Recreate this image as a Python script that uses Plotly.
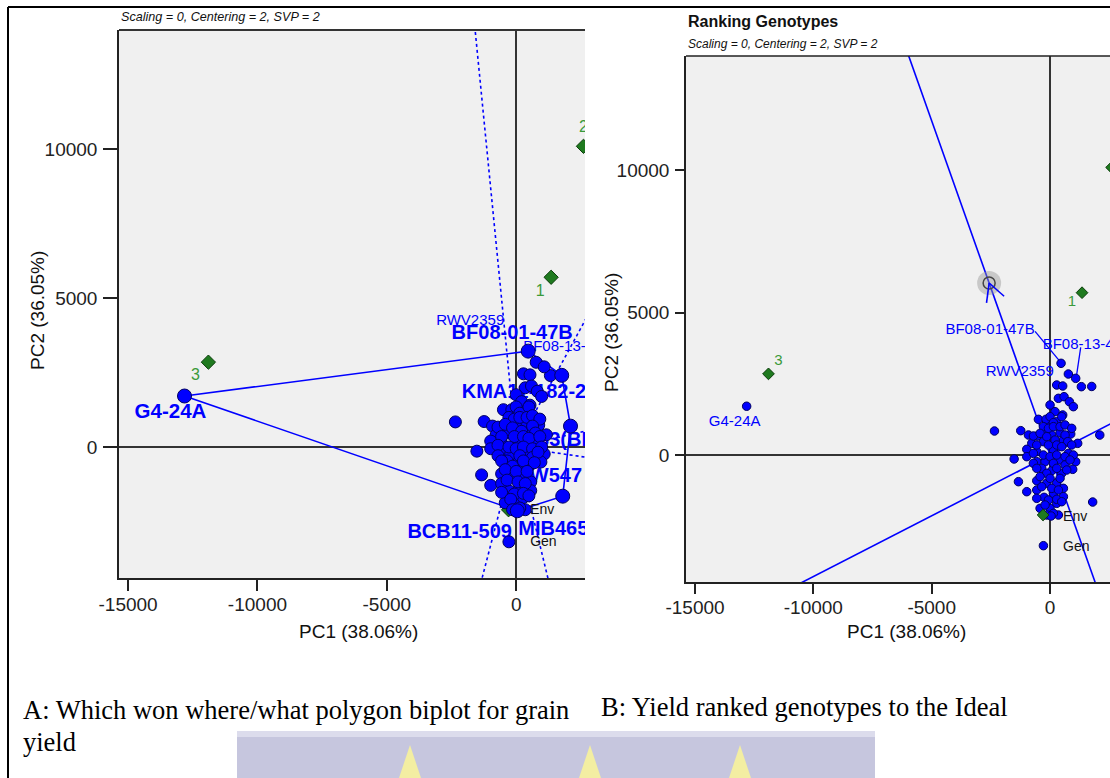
import math
import plotly.graph_objects as go

W, H = 1110, 778
FONT = "Liberation Sans"
SERIF = "Liberation Serif"

# ---------------- data ----------------
gen_pc1 = [773, 1322, 281, 534, 352, 591, 816, 984, 0, 211,
           534, -492, -141, 281, -2349, -1238, -914, -534, -239, 70,
           422, 872, 1167, -773, -281, 563, -984, -563, 141, 773,
           -1519, -984, -563, -211, 422, 1083, 956, -352, 70, 492,
           -1336, -563, -141, 281, 563, -984, -563, -253, 141, 563,
           -422, 0, 281, 352, 1083, -281,
           -169, 0, 141, 492, -281, -70, 141, 422, 633, 914,
           -703, -422, -141, 211, 633, 745, -563, -70, 281, 492,
           914, -703, -281, 0, 281, 633, 984, -703, 141, 633,
           844, -563, -141, 281, 703, -422, 0, 422, -352, 70,
           352, -563, -70, 281, 492, -211, 141, -141]
gen_pc2 = [2842, 2398, 2456, 2421, 1988, 2047, 1871, 1696, 1755, 1521,
           1404, 1252, 1111, 1170, 842, 854, 702, 667, 760, 702,
           784, 737, 409, 409, 468, 526, 199, 117, 175, 58,
           -140, -58, -234, -234, -175, -234, -503, -468, -550, -643,
           -936, -901, -994, -971, -1170, -1287, -1228, -1486, -1345, -1462,
           -1871, -1871, -1696, -2105, 2690, -3182,
           1252, 1345, 1135, 1345, 994, 936, 994, 994, 1053, 936,
           667, 760, 643, 526, 702, 468, 351, 351, 351, 292,
           351, 58, 0, -58, 0, -58, 0, -292, -292, -351,
           -175, -468, -643, -468, -526, -760, -819, -819, -1111, -1170,
           -1228, -1521, -1579, -1556, -1638, -1755, -2047, -2105]

# polygon vertex genotypes (which-won-where)
vertex_names = ["G4-24A", "BF08-01-47B", "KMA11-182-28", "CH-33(BF08)", "RW547", "MIB4653"]
vertex_pc1 = [-12818, 464, 1760, 2100, 1800, 42]
vertex_pc2 = [1711, 3217, 2405, 700, -1650, -2140]

# other labelled genotypes
named_gen = ["BF08-13-44", "RWV2359", "BCB11-509"]
named_pc1 = [1083, 281, -281]
named_pc2 = [2690, 2456, -3182]

# environments
env_names = ["1", "2", "3", "4"]
env_pc1 = [1351, 2600, -11895, -295]
env_pc2 = [5695, 10090, 2847, -2105]

# ideal genotype (ranking plot)
ideal_pc1, ideal_pc2 = -2574, 6035

x_ticks = [-15000, -10000, -5000, 0]
y_ticks = [0, 5000, 10000]
x_title = "PC1 (38.06%)"
y_title = "PC2 (36.05%)"
subtitle = "Scaling = 0, Centering = 2, SVP = 2"
title_b = "Ranking Genotypes"
caption_a1 = "A: Which won where/what polygon biplot for grain"
caption_a2 = "yield"
caption_b = "B: Yield ranked genotypes to the Ideal"

# ---------------- layout geometry ----------------
LEFT = dict(xr=[-15350, 2660], yr=[-4396, 13993], px=[119, 585], py=[30, 578])
RIGHT = dict(xr=[-15380, 2532], yr=[-4456, 14000], px=[686, 1110], py=[56, 582])


def upp(p):
    return ((p["xr"][1] - p["xr"][0]) / (p["px"][1] - p["px"][0]),
            (p["yr"][1] - p["yr"][0]) / (p["py"][1] - p["py"][0]))


def dom(p):
    return ([p["px"][0] / W, min(1.0, p["px"][1] / W)],
            [1 - p["py"][1] / H, 1 - p["py"][0] / H])


def off(p, x, y, dx, dy):
    ux, uy = upp(p)
    return x + dx * ux, y - dy * uy


BLUE = "#0000ff"
GREEN_FILL = "#1f7a1f"
GREEN_TXT = "#3a9a3a"

fig = go.Figure()

# ================= LEFT PANEL: which-won-where =================
n = len(vertex_pc1)
rx, ry = [], []
for i in range(n):
    x0, y0 = vertex_pc1[i], vertex_pc2[i]
    x1, y1 = vertex_pc1[(i + 1) % n], vertex_pc2[(i + 1) % n]
    ex, ey = x1 - x0, y1 - y0
    qx, qy = ey, -ex
    mx, my = (x0 + x1) / 2, (y0 + y1) / 2
    if qx * mx + qy * my < 0:
        qx, qy = -qx, -qy
    L = math.hypot(qx, qy)
    rx += [0, qx / L * 40000, None]
    ry += [0, qy / L * 40000, None]
fig.add_trace(go.Scatter(x=rx, y=ry, mode="lines", xaxis="x", yaxis="y",
                         line=dict(color=BLUE, width=1.6, dash="dot"), hoverinfo="skip"))
fig.add_trace(go.Scatter(x=vertex_pc1 + [vertex_pc1[0]], y=vertex_pc2 + [vertex_pc2[0]],
                         mode="lines", xaxis="x", yaxis="y",
                         line=dict(color=BLUE, width=1.6), hoverinfo="skip"))

# environment markers (left) drawn before genotypes so hidden ones stay hidden
fig.add_trace(go.Scatter(x=env_pc1, y=env_pc2, mode="markers", xaxis="x", yaxis="y",
                         marker=dict(symbol="diamond", size=11, color=GREEN_FILL,
                                     line=dict(color="#0b3d0b", width=1)), hoverinfo="skip"))

# labels (drawn beneath points)
vd = dict(zip(vertex_names, zip(vertex_pc1, vertex_pc2)))
nd = dict(zip(named_gen, zip(named_pc1, named_pc2)))
left_labels = [
    ("BF08-01-47B", vd["BF08-01-47B"], -16, -17, "middle center", 20, True, BLUE),
    ("RWV2359", vd["BF08-01-47B"], -58, -30, "middle center", 15, False, BLUE),
    ("BF08-13-44", nd["BF08-13-44"], -21, -20, "middle right", 15, False, BLUE),
    ("KMA11-182-28", vd["KMA11-182-28"], -100, 18, "middle right", 20, True, BLUE),
    ("G4-24A", vd["G4-24A"], -14, 17, "middle center", 20.5, True, BLUE),
    ("CH-33(BF08)", vd["CH-33(BF08)"], -68, 15, "middle right", 20, True, BLUE),
    ("RW547", vd["RW547"], -47, -19, "middle right", 20, True, BLUE),
    ("BCB11-509", nd["BCB11-509"], 3, -9, "middle left", 20, True, BLUE),
    ("MIB4653", vd["MIB4653"], 1, 19, "middle right", 20, True, BLUE),
    ("Env", (0, 0), 14, 63, "middle right", 14, False, "#111111"),
    ("Gen", (0, 0), 14, 95, "middle right", 14, False, "#111111"),
]
for t, (ax_, ay_), dx, dy, pos, sz, b, col in left_labels:
    x, y = off(LEFT, ax_, ay_, dx, dy)
    fig.add_trace(go.Scatter(x=[x], y=[y], mode="text", xaxis="x", yaxis="y",
                             text=["<b>%s</b>" % t if b else t], textposition=pos,
                             textfont=dict(family=FONT, size=sz, color=col), hoverinfo="skip"))

fig.add_trace(go.Scatter(x=gen_pc1, y=gen_pc2, mode="markers", xaxis="x", yaxis="y",
                         marker=dict(size=12, color=BLUE, line=dict(color="#000060", width=1)),
                         hoverinfo="skip"))
fig.add_trace(go.Scatter(x=vertex_pc1, y=vertex_pc2, mode="markers", xaxis="x", yaxis="y",
                         marker=dict(size=14, color=BLUE, line=dict(color="#000060", width=1)),
                         hoverinfo="skip"))
for name, dx, dy in [("1", -11, 15), ("2", 0, -18), ("3", -13, 14)]:
    i = env_names.index(name)
    x, y = off(LEFT, env_pc1[i], env_pc2[i], dx, dy)
    fig.add_trace(go.Scatter(x=[x], y=[y], mode="text", xaxis="x", yaxis="y", text=[name],
                             textposition="middle center",
                             textfont=dict(family=FONT, size=16, color=GREEN_TXT), hoverinfo="skip"))

# ================= RIGHT PANEL: ranking genotypes =================
T = 4
fig.add_trace(go.Scatter(x=[-T * ideal_pc1, T * ideal_pc1, None, -T * ideal_pc2, T * ideal_pc2],
                         y=[-T * ideal_pc2, T * ideal_pc2, None, T * ideal_pc1, -T * ideal_pc1],
                         mode="lines", xaxis="x2", yaxis="y2",
                         line=dict(color=BLUE, width=1.6), hoverinfo="skip"))
# leader lines
lead = []
for (ax_, ay_), d0, d1 in [(vd["BF08-01-47B"], (-26, -32), (-2, -3)),
                           (nd["BF08-13-44"], (5, -31), (1, -4))]:
    a = off(RIGHT, ax_, ay_, *d0)
    b_ = off(RIGHT, ax_, ay_, *d1)
    lead += [a, b_, (None, None)]
fig.add_trace(go.Scatter(x=[p[0] for p in lead], y=[p[1] for p in lead], mode="lines",
                         xaxis="x2", yaxis="y2", line=dict(color=BLUE, width=1.3), hoverinfo="skip"))

fig.add_trace(go.Scatter(x=gen_pc1 + vertex_pc1, y=gen_pc2 + vertex_pc2, mode="markers",
                         xaxis="x2", yaxis="y2",
                         marker=dict(size=8.5, color=BLUE, line=dict(color="#000060", width=1)),
                         hoverinfo="skip"))
fig.add_trace(go.Scatter(x=env_pc1, y=env_pc2, mode="markers", xaxis="x2", yaxis="y2",
                         marker=dict(symbol="diamond", size=9, color=GREEN_FILL,
                                     line=dict(color="#0b3d0b", width=1)), hoverinfo="skip"))
# ideal genotype: halo + circle + arrow barbs
fig.add_trace(go.Scatter(x=[ideal_pc1], y=[ideal_pc2], mode="markers", xaxis="x2", yaxis="y2",
                         marker=dict(size=24, color="rgba(150,150,150,0.45)", line=dict(width=0)),
                         hoverinfo="skip"))
fig.add_trace(go.Scatter(x=[ideal_pc1], y=[ideal_pc2], mode="markers", xaxis="x2", yaxis="y2",
                         marker=dict(size=12, color="rgba(0,0,0,0)", line=dict(color="#444", width=1.5)),
                         hoverinfo="skip"))
ux, uy = upp(RIGHT)
vx, vy = -ideal_pc1 / ux, ideal_pc2 / uy  # screen direction from tip back to origin (down = +)
Lp = math.hypot(vx, vy)
vx, vy = vx / Lp, vy / Lp
bx, by = [], []
for ang in (27, -29):
    a = math.radians(ang)
    cx = vx * math.cos(a) - vy * math.sin(a)
    cy = vx * math.sin(a) + vy * math.cos(a)
    ex_, ey_ = off(RIGHT, ideal_pc1, ideal_pc2, cx * 20, cy * 20)
    bx += [ideal_pc1, ex_, None]
    by += [ideal_pc2, ey_, None]
fig.add_trace(go.Scatter(x=bx, y=by, mode="lines", xaxis="x2", yaxis="y2",
                         line=dict(color=BLUE, width=1.6), hoverinfo="skip"))

right_labels = [
    ("BF08-01-47B", vd["BF08-01-47B"], -71, -33, "middle center", 15, BLUE),
    ("BF08-13-44", nd["BF08-13-44"], -33, -33, "middle right", 15, BLUE),
    ("RWV2359", nd["RWV2359"], -37, -13, "middle center", 15, BLUE),
    ("G4-24A", vd["G4-24A"], -12, 16, "middle center", 15, BLUE),
    ("Env", (0, 0), 13, 62, "middle right", 14, "#111111"),
    ("Gen", (0, 0), 13, 92, "middle right", 14, "#111111"),
]
for t, (ax_, ay_), dx, dy, pos, sz, col in right_labels:
    x, y = off(RIGHT, ax_, ay_, dx, dy)
    fig.add_trace(go.Scatter(x=[x], y=[y], mode="text", xaxis="x2", yaxis="y2", text=[t],
                             textposition=pos, textfont=dict(family=FONT, size=sz, color=col),
                             hoverinfo="skip"))
for name, dx, dy in [("1", -10, 10), ("3", 10, -13)]:
    i = env_names.index(name)
    x, y = off(RIGHT, env_pc1[i], env_pc2[i], dx, dy)
    fig.add_trace(go.Scatter(x=[x], y=[y], mode="text", xaxis="x2", yaxis="y2", text=[name],
                             textposition="middle center",
                             textfont=dict(family=FONT, size=15, color=GREEN_TXT), hoverinfo="skip"))


# ================= axes =================
def xaxis(p, anchor, ticklen):
    d = dom(p)[0]
    return dict(domain=d, range=p["xr"], anchor=anchor, tickvals=x_ticks,
                ticktext=[str(v) for v in x_ticks], ticks="outside", ticklen=ticklen,
                tickwidth=1.5, tickcolor="#222", showline=True, linecolor="#222", linewidth=1.5,
                zeroline=True, zerolinecolor="#333", zerolinewidth=2, showgrid=False,
                tickfont=dict(family=FONT, size=19, color="#222"), ticklabelstandoff=-3,
                fixedrange=True)


def yaxis(p, anchor, ticklen):
    d = dom(p)[1]
    return dict(domain=d, range=p["yr"], anchor=anchor, tickvals=y_ticks,
                ticktext=[str(v) for v in y_ticks], ticks="outside", ticklen=ticklen,
                tickwidth=1.5, tickcolor="#222", showline=True, linecolor="#222", linewidth=1.5,
                zeroline=True, zerolinecolor="#333", zerolinewidth=2, showgrid=False,
                tickfont=dict(family=FONT, size=19, color="#222"), ticklabelstandoff=2,
                fixedrange=True)


def P(px, py):
    return px / W, 1 - py / H


annotations = []


def ann(text, px, py, size, family=FONT, xanchor="left", color="#111", angle=0):
    x, y = P(px, py)
    annotations.append(dict(text=text, x=x, y=y, xref="paper", yref="paper", xanchor=xanchor,
                            yanchor="middle", showarrow=False, textangle=angle,
                            font=dict(family=family, size=size, color=color)))


ann("<i>%s</i>" % subtitle, 119, 17, 12.6)
ann("<b>%s</b>" % title_b, 686, 22, 16)
ann("<i>%s</i>" % subtitle, 686, 44, 12)
ann(x_title, 358, 631, 19, xanchor="center")
ann(x_title, 906, 631, 19, xanchor="center")
ann(y_title, 37, 311, 19, xanchor="center", angle=-90)
ann(y_title, 612, 333, 19, xanchor="center", angle=-90)
ann(caption_a1, 21, 710, 26.5, family=SERIF, color="#000")
ann(caption_a2, 21, 742, 26.5, family=SERIF, color="#000")
ann(caption_b, 599, 707, 26.5, family=SERIF, color="#000")

shapes = []


def pline(x0, y0, x1, y1, color="#111", width=2):
    a, b = P(x0, y0)
    c, d = P(x1, y1)
    shapes.append(dict(type="line", xref="paper", yref="paper", x0=a, y0=b, x1=c, y1=d,
                       line=dict(color=color, width=width)))


# page frame
pline(8, 7, 1110, 7, "#000", 2)
pline(8, 7, 8, 778, "#000", 2)
# plot top borders
pline(LEFT["px"][0], LEFT["py"][0], LEFT["px"][1], LEFT["py"][0], "#333", 2)
pline(RIGHT["px"][0], RIGHT["py"][0], RIGHT["px"][1], RIGHT["py"][0], "#222", 1.5)

# faded banner at bottom
a, b = P(237, 731)
c, d = P(875, 778)
shapes.append(dict(type="rect", xref="paper", yref="paper", x0=a, y0=d, x1=c, y1=b,
                   fillcolor="#c6c6de", line=dict(width=0), layer="below"))
a, b = P(237, 731)
c, d = P(875, 737)
shapes.append(dict(type="rect", xref="paper", yref="paper", x0=a, y0=d, x1=c, y1=b,
                   fillcolor="#dcdcec", line=dict(width=0), layer="below"))
for cx in (410, 590, 740):
    pts = [P(cx, 745), P(cx + 11, 778), P(cx - 11, 778)]
    path = "M %f %f L %f %f L %f %f Z" % (pts[0] + pts[1] + pts[2])
    shapes.append(dict(type="path", xref="paper", yref="paper", path=path,
                       fillcolor="#f3eea2", line=dict(width=0), layer="below"))

fig.update_layout(
    width=W, height=H, margin=dict(l=0, r=0, t=0, b=0, autoexpand=False),
    paper_bgcolor="white", plot_bgcolor="#f0f0f0", showlegend=False, hovermode=False,
    xaxis=xaxis(LEFT, "y", 11), yaxis=yaxis(LEFT, "x", 14),
    xaxis2=xaxis(RIGHT, "y2", 10), yaxis2=yaxis(RIGHT, "x2", 9),
    annotations=annotations, shapes=shapes,
)

fig.write_html("out.html")
